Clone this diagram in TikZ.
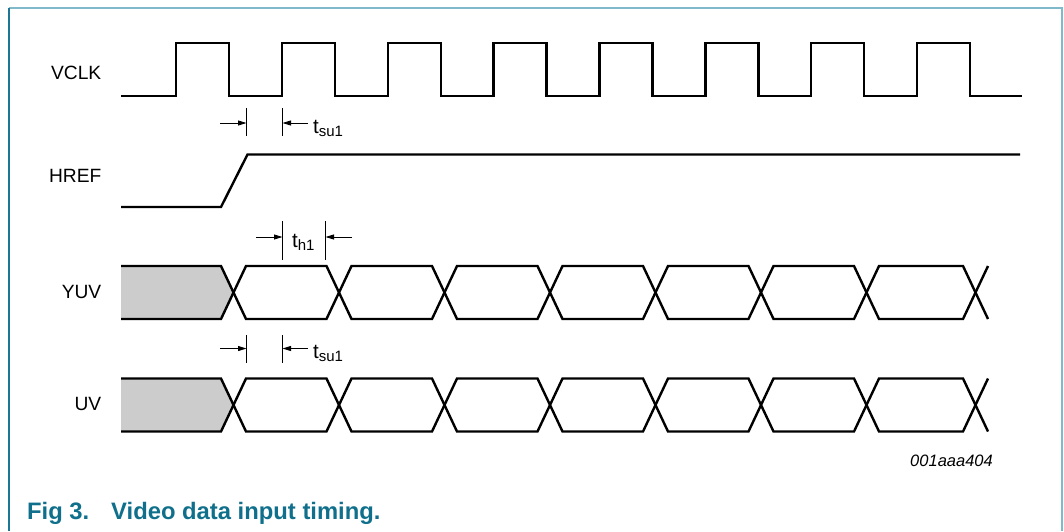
\documentclass[tikz,border=0pt]{standalone}
\usepackage{fontspec}
\setmainfont{Liberation Sans}
\usetikzlibrary{arrows.meta}
\definecolor{framelight}{RGB}{128,186,202}
\definecolor{framedark}{RGB}{30,118,150}
\definecolor{captionteal}{RGB}{16,112,140}
\definecolor{busgray}{RGB}{204,204,204}
\tikzset{
  sig/.style={line width=2.4pt, line join=miter},
  tick/.style={line width=0.9pt},
  dimarrow/.style={line width=0.9pt, -{Triangle[length=8.5pt,width=5pt]}},
  siglabel/.style={inner sep=0pt, anchor=base east, font=\fontsize{19.2pt}{22pt}\selectfont},
  tlabel/.style={inner sep=0pt, anchor=base west, font=\fontsize{20.5pt}{22pt}\selectfont},
  caption/.style={inner sep=0pt, anchor=base west, text=captionteal, font=\fontsize{23.8pt}{26pt}\selectfont\bfseries},
}
\newcommand{\tsub}[1]{t\raisebox{-3pt}{\fontsize{15pt}{16pt}\selectfont #1}}
\begin{document}
\begin{tikzpicture}[x=1pt,y=-1pt]
\useasboundingbox (0,0) rectangle (1064,531);
% frame
\draw[framelight, line width=2pt] (9,8) -- (1062,8) -- (1062,531);
\draw[framedark, line width=1.4pt] (9,8) -- (9,531);

% signal labels
\node[siglabel] (lvclk) at (101.5,79) {VCLK};
\node[siglabel] (lhref) at (101.5,182.7) {HREF};
\node[siglabel] (lyuv) at (101.5,298) {YUV};
\node[siglabel] (luv) at (101.5,410) {UV};

% VCLK
\draw[sig] (121,96) foreach \k in {0,...,7} {
  -- ({176+105.86*\k},96) -- ({176+105.86*\k},43) -- ({229+105.86*\k},43) -- ({229+105.86*\k},96)
} -- (1022,96);

% HREF
\draw[sig] (121,207) -- (221,207) -- (247.5,154.5) -- (1020,154.5);

% YUV and UV buses
\foreach \T/\B in {266/319, 378.5/431.5} {
  \fill[busgray] (121,\T) -- (221,\T) -- (233.5,{(\T+\B)/2}) -- (221,\B) -- (121,\B) -- cycle;
  \draw[sig] (121,\T) -- (221,\T) -- (246,\B) -- (326.5,\B) -- (351.5,\T) -- (432,\T) -- (457,\B) -- (537.5,\B) -- (562.5,\T) -- (643,\T) -- (668,\B) -- (748.5,\B) -- (773.5,\T) -- (854,\T) -- (879,\B) -- (963,\B) -- (988,\T);
  \draw[sig] (121,\B) -- (221,\B) -- (246,\T) -- (326.5,\T) -- (351.5,\B) -- (432,\B) -- (457,\T) -- (537.5,\T) -- (562.5,\B) -- (643,\B) -- (668,\T) -- (748.5,\T) -- (773.5,\B) -- (854,\B) -- (879,\T) -- (963,\T) -- (988,\B);
}

% tsu1 (top)
\coordinate (a1t) at (246.5,108); \coordinate (a1b) at (246.5,136);
\coordinate (b1t) at (282.5,108); \coordinate (b1b) at (282.5,136);
\coordinate (a1s) at (220,123); \coordinate (a1e) at (246.5,123);
\coordinate (b1s) at (308,123); \coordinate (b1e) at (282.5,123);
\draw[tick] (a1t) -- (a1b);
\draw[tick] (b1t) -- (b1b);
\draw[dimarrow] (a1s) -- (a1e);
\draw[dimarrow] (b1s) -- (b1e);
\node[tlabel] (tsu1a) at (313,133) {\tsub{su1}};

% th1
\coordinate (a2t) at (282.5,221); \coordinate (a2b) at (282.5,260);
\coordinate (b2t) at (325.5,221); \coordinate (b2b) at (325.5,260);
\coordinate (a2s) at (256,237); \coordinate (a2e) at (282.5,237);
\coordinate (b2s) at (352,237); \coordinate (b2e) at (325.5,237);
\draw[tick] (a2t) -- (a2b);
\draw[tick] (b2t) -- (b2b);
\draw[dimarrow] (a2s) -- (a2e);
\draw[dimarrow] (b2s) -- (b2e);
\node[tlabel] (th1) at (292,247) {\tsub{h1}};

% tsu1 (bottom)
\coordinate (a3t) at (246.5,335); \coordinate (a3b) at (246.5,363);
\coordinate (b3t) at (282.5,335); \coordinate (b3b) at (282.5,363);
\coordinate (a3s) at (220,348.5); \coordinate (a3e) at (246.5,348.5);
\coordinate (b3s) at (308,348.5); \coordinate (b3e) at (282.5,348.5);
\draw[tick] (a3t) -- (a3b);
\draw[tick] (b3t) -- (b3b);
\draw[dimarrow] (a3s) -- (a3e);
\draw[dimarrow] (b3s) -- (b3e);
\node[tlabel] (tsu1b) at (313,358.5) {\tsub{su1}};

% figure code
\node[inner sep=0pt, anchor=base east, font=\fontsize{16.5pt}{18pt}\selectfont\itshape] (code) at (993,466) {001aaa404};

% caption
\node[caption] (capfig) at (27,519) {Fig 3.};
\node[caption] (captext) at (111,519) {Video data input timing.};
\end{tikzpicture}
\end{document}
